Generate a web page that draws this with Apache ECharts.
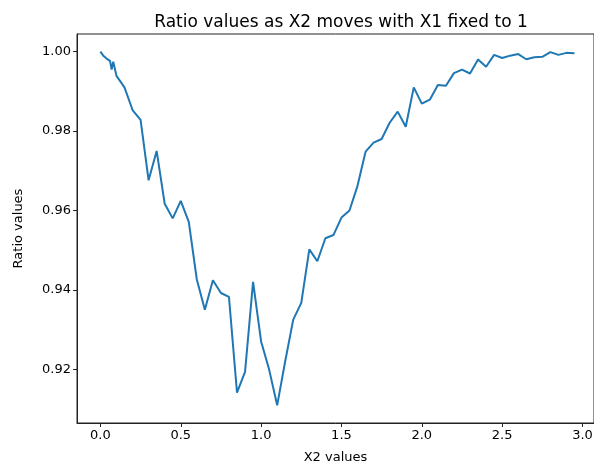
<!DOCTYPE html>
<html>
<head>
<meta charset="utf-8">
<script src="https://cdn.jsdelivr.net/npm/echarts@6/dist/echarts.min.js"></script>
<style>
html,body{margin:0;padding:0;background:#fff;}
#c{width:594px;height:464px;}
</style>
</head>
<body>
<div id="c"></div>
<script>
const x2Values = [0.00,0.01,0.02,0.03,0.04,0.05,0.06,0.07,0.08,0.09,0.10,
  0.15,0.20,0.25,0.30,0.35,0.40,0.45,0.50,0.55,0.60,0.65,0.70,0.75,0.80,0.85,0.90,0.95,
  1.00,1.05,1.10,1.15,1.20,1.25,1.30,1.35,1.40,1.45,1.50,1.55,1.60,1.65,1.70,1.75,1.80,
  1.85,1.90,1.95,2.00,2.05,2.10,2.15,2.20,2.25,2.30,2.35,2.40,2.45,2.50,2.55,2.60,2.65,
  2.70,2.75,2.80,2.85,2.90,2.95];
const ratioValues = [1.0000,0.9995,0.9989,0.9990,0.9982,0.9987,0.9977,0.9955,0.9975,0.9957,0.9939,
  0.9910,0.9853,0.9828,0.9676,0.9750,0.9617,0.9580,0.9624,0.9571,0.9426,0.9350,0.9424,0.9392,0.9382,0.9141,0.9193,0.9420,
  0.9270,0.9199,0.9109,0.9220,0.9325,0.9367,0.9502,0.9472,0.9530,0.9538,0.9582,0.9600,0.9662,0.9748,0.9771,0.9780,0.9821,
  0.9849,0.9811,0.9910,0.9869,0.9879,0.9916,0.9914,0.9946,0.9955,0.9945,0.9980,0.9962,0.9992,0.9984,0.9990,0.9994,0.9981,
  0.9986,0.9987,0.9999,0.9992,0.9997,0.9996];
const xTicks = [0.0,0.5,1.0,1.5,2.0,2.5,3.0];
const yTicks = [0.92,0.94,0.96,0.98,1.00];

const chart = echarts.init(document.getElementById('c'), null, {renderer:'canvas'});
const font = 'DejaVu Sans';
const xs = x2Values, ys = ratioValues;
const yr = Math.max(...ys) - Math.min(...ys);
chart.setOption({
  animation:false,
  title:{text:'Ratio values as X2 moves with X1 fixed to 1', left:336, top:9, textAlign:'center',
    textStyle:{fontFamily:font, fontSize:17, fontWeight:'normal', color:'#000'}},
  grid:{left:77, top:34, right:0, bottom:41, outerBoundsMode:'none', containLabel:false,
    show:true, borderColor:'#222', borderWidth:1, backgroundColor:'transparent'},
  xAxis:{type:'value', min:-0.1456, max:3.0715,
    name:'X2 values', nameLocation:'middle', nameGap:28,
    nameTextStyle:{fontFamily:font, fontSize:13, color:'#000'},
    splitLine:{show:false},
    axisLine:{show:true, onZero:false, lineStyle:{color:'#222', width:1}},
    axisTick:{show:true, length:4, customValues:xTicks, lineStyle:{color:'#222'}},
    axisLabel:{customValues:xTicks, margin:6, fontFamily:font, fontSize:13, color:'#000',
      formatter:v=>v.toFixed(1)}},
  yAxis:{type:'value', min:Math.min(...ys)-0.05*yr, max:Math.max(...ys)+0.05*yr,
    name:'Ratio values', nameLocation:'middle', nameGap:52,
    nameTextStyle:{fontFamily:font, fontSize:13, color:'#000'},
    splitLine:{show:false},
    axisLine:{show:true, onZero:false, lineStyle:{color:'#222', width:1}},
    axisTick:{show:true, length:4, customValues:yTicks, lineStyle:{color:'#222'}},
    axisLabel:{customValues:yTicks, margin:6, fontFamily:font, fontSize:13, color:'#000',
      formatter:v=>v.toFixed(2)}},
  series:[{type:'line', data:xs.map((x,i)=>[x, ys[i]]), showSymbol:false, symbol:'none',
    lineStyle:{color:'#1f77b4', width:2}, itemStyle:{color:'#1f77b4'}}]
});
</script>
</body>
</html>
